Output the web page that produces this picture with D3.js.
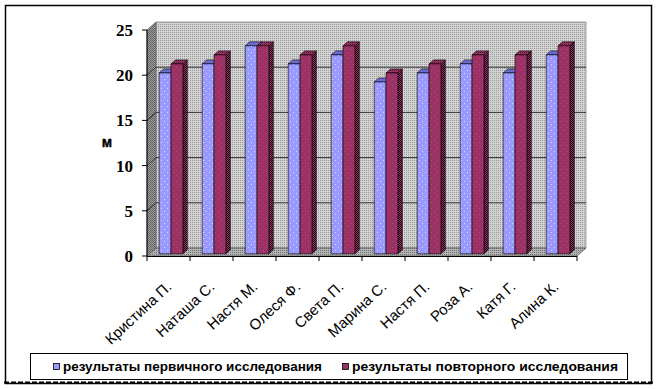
<!DOCTYPE html>
<html lang="ru">
<head>
<meta charset="utf-8">
<title>результаты исследования</title>
<script src="https://cdn.jsdelivr.net/npm/d3@7"></script>
<style>
  body { margin: 0; background: #fff; }
  svg { display: block; }
</style>
</head>
<body>
<svg width="657" height="389"></svg>
<script>
// данные
var names = ["Кристина П.", "Наташа С.", "Настя М.", "Олеся Ф.", "Света П.",
             "Марина С.", "Настя П.", "Роза А.", "Катя Г.", "Алина К."];
var first = [20, 21, 23, 21, 22, 19, 20, 21, 20, 22];
var second = [21, 22, 23, 22, 23, 20, 21, 22, 22, 23];
var seriesNames = ["результаты первичного исследования", "результаты повторного исследования"];
var yTicks = [0, 5, 10, 15, 20, 25];
var axisTitle = "м";

var svg = d3.select("svg");

// глубина 3D
var DX = 9, DY = -8;
function P(x, y, z) { return [x + DX * z, y + DY * z]; }
function poly(pts) { return pts.map(function (p) { return p.join(","); }).join(" "); }

var x0 = d3.scaleBand().domain(names).range([147, 577]);
var groupW = x0.bandwidth() * 0.55;
var x1 = d3.scaleBand().domain([0, 1]).range([0, groupW]);
var y = d3.scaleLinear().domain([0, 25]).range([256, 30]);

// узоры
var defs = svg.append("defs");
function dots(id, size, base, dot, cells) {
  var p = defs.append("pattern").attr("id", id).attr("patternUnits", "userSpaceOnUse")
    .attr("width", size).attr("height", size);
  p.append("rect").attr("width", size).attr("height", size).attr("fill", base);
  cells.forEach(function (c) {
    p.append("rect").attr("x", c[0]).attr("y", c[1]).attr("width", 1).attr("height", 1).attr("fill", dot);
  });
}
dots("wall", 2, "#d2d2d2", "#9c9c9c", [[0, 0]]);
dots("side", 2, "#a2a2a2", "#5e5e5e", [[0, 0], [1, 1]]);
dots("floor", 2, "#b4b4b4", "#707070", [[0, 0]]);
dots("blue", 6, "#9999ff", "#d8d8ff", [[2, 1], [5, 4]]);
dots("red", 6, "#993366", "#e0307a", [[2, 1], [5, 4]]);
dots("redside", 2, "#993366", "#1a0010", [[0, 0], [1, 1]]);
dots("redtop", 2, "#993366", "#5a1030", [[0, 0]]);

// рамка
svg.append("rect").attr("x", 5.5).attr("y", 5.5).attr("width", 646).attr("height", 378)
  .attr("fill", "#fff").attr("stroke", "#000").attr("stroke-width", 1.5);
svg.append("line").attr("x1", 4).attr("x2", 653).attr("y1", 382.5).attr("y2", 382.5)
  .attr("stroke", "#000").attr("stroke-width", 2).attr("stroke-dasharray", "5,2");

var xL = x0.range()[0], xR = x0.range()[1], y0 = y(0), yT = y(25);

// задняя стенка, боковая стенка, пол
svg.append("polygon").attr("points", poly([P(xL, yT, 1), P(xR, yT, 1), P(xR, y0, 1), P(xL, y0, 1)]))
  .attr("fill", "url(#wall)").attr("stroke", "#8a8a8a").attr("stroke-width", 0.8);
svg.append("polygon").attr("points", poly([[xL, yT], P(xL, yT, 1), P(xL, y0, 1), [xL, y0]]))
  .attr("fill", "url(#side)").attr("stroke", "#666").attr("stroke-width", 0.8);

// линии сетки
yTicks.filter(function (t) { return t > 0 && t < 25; }).forEach(function (t) {
  svg.append("polyline").attr("points", poly([[xL, y(t)], P(xL, y(t), 1), P(xR, y(t), 1)]))
    .attr("fill", "none").attr("stroke", "#333").attr("stroke-width", 1);
});

svg.append("polygon").attr("points", poly([[xL, y0], [xR, y0], P(xR, y0, 1), P(xL, y0, 1)]))
  .attr("fill", "url(#floor)").attr("stroke", "#555").attr("stroke-width", 0.8);

// столбцы
var zf = 0.28, zb = 0.78;
var fills = [
  { front: "url(#blue)", top: "#6a6ad0", side: "#4d4da0" },
  { front: "url(#red)", top: "url(#redtop)", side: "url(#redside)" }
];
var bars = [];
names.forEach(function (n, i) {
  [first[i], second[i]].forEach(function (v, s) {
    bars.push({ name: n, s: s, v: v });
  });
});

var g = svg.append("g").selectAll("g").data(bars).enter().append("g");
g.each(function (d) {
  var gg = d3.select(this);
  var bx = x0(d.name) + (x0.bandwidth() - groupW) / 2 + x1(d.s);
  var w = x1.bandwidth();
  var yv = y(d.v);
  var f = fills[d.s];
  gg.append("polygon")
    .attr("points", poly([P(bx + w, yv, zf), P(bx + w, y0, zf), P(bx + w, y0, zb), P(bx + w, yv, zb)]))
    .attr("fill", f.side).attr("stroke", "#000").attr("stroke-width", 0.6);
  gg.append("polygon")
    .attr("points", poly([P(bx, yv, zf), P(bx + w, yv, zf), P(bx + w, yv, zb), P(bx, yv, zb)]))
    .attr("fill", f.top).attr("stroke", "#000").attr("stroke-width", 0.6);
  gg.append("polygon")
    .attr("points", poly([P(bx, yv, zf), P(bx + w, yv, zf), P(bx + w, y0, zf), P(bx, y0, zf)]))
    .attr("fill", f.front).attr("stroke", "#000").attr("stroke-width", 0.6);
});

// оси
svg.append("line").attr("x1", xL).attr("x2", xL).attr("y1", yT).attr("y2", y0)
  .attr("stroke", "#000").attr("stroke-width", 1);
svg.append("line").attr("x1", xL).attr("x2", xR).attr("y1", y0 + 0.5).attr("y2", y0 + 0.5)
  .attr("stroke", "#000").attr("stroke-width", 1);

var yAxis = svg.append("g");
yTicks.forEach(function (t) {
  yAxis.append("line").attr("x1", xL - 5).attr("x2", xL).attr("y1", y(t)).attr("y2", y(t))
    .attr("stroke", "#000");
  yAxis.append("text").attr("x", 133).attr("y", y(t) + 6).attr("text-anchor", "end")
    .attr("font-family", "'Liberation Serif', 'Times New Roman', serif")
    .attr("font-weight", "bold").attr("font-size", 17).text(t);
});

svg.append("text").attr("x", 107).attr("y", 147).attr("text-anchor", "middle")
  .attr("font-family", "'Liberation Sans', Arial, sans-serif").attr("font-weight", "bold")
  .attr("font-size", 14).attr("stroke", "#000").attr("stroke-width", 0.4).text(axisTitle);

// подписи категорий
var xAxis = svg.append("g");
d3.range(names.length + 1).forEach(function (i) {
  var xt = xL + i * x0.bandwidth();
  xAxis.append("line").attr("x1", xt).attr("x2", xt).attr("y1", y0).attr("y2", y0 + 5)
    .attr("stroke", "#000");
});
xAxis.selectAll("text").data(names).enter().append("text")
  .attr("transform", function (d) {
    return "translate(" + (x0(d) + x0.bandwidth() / 2 + 4) + "," + 288 + ") rotate(-43)";
  })
  .attr("text-anchor", "end")
  .attr("font-family", "'Liberation Sans', Arial, sans-serif").attr("font-size", 15)
  .text(function (d) { return d; });

// легенда
svg.append("rect").attr("x", 30.5).attr("y", 353.5).attr("width", 597).attr("height", 26)
  .attr("fill", "#fff").attr("stroke", "#000").attr("stroke-width", 1);
var legX = [53, 342], legW = [259, 266], legCol = ["#9999ff", "#993366"];
seriesNames.forEach(function (s, i) {
  svg.append("rect").attr("x", legX[i] + 0.5).attr("y", 363.5).attr("width", 6).attr("height", 6)
    .attr("fill", legCol[i]).attr("stroke", "#000").attr("stroke-width", 0.8);
  svg.append("text").attr("x", legX[i] + 10).attr("y", 371)
    .attr("font-family", "'Liberation Sans', Arial, sans-serif").attr("font-weight", "bold")
    .attr("font-size", 13).attr("textLength", legW[i]).attr("lengthAdjust", "spacingAndGlyphs")
    .text(s);
});
</script>
</body>
</html>
